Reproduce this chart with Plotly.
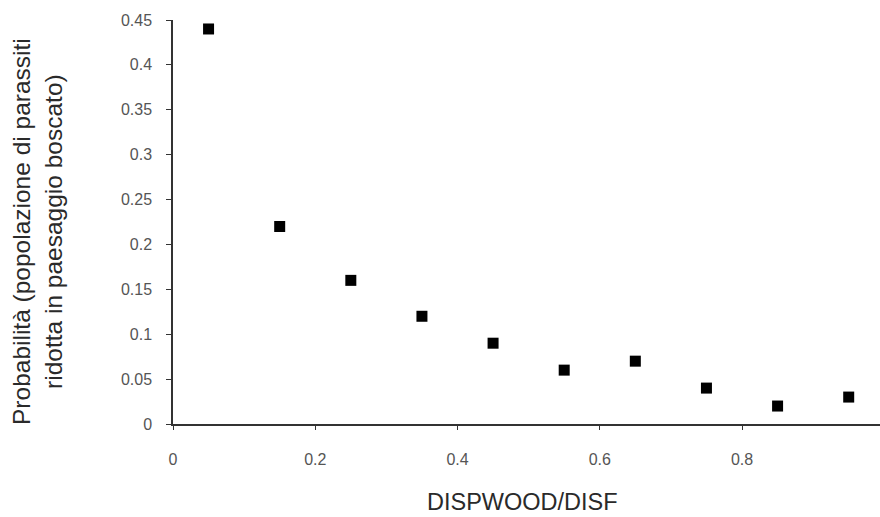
import plotly.graph_objects as go

x_vals = [0.05, 0.15, 0.25, 0.35, 0.45, 0.55, 0.65, 0.75, 0.85, 0.95]
y_vals = [0.44, 0.22, 0.16, 0.12, 0.09, 0.06, 0.07, 0.04, 0.02, 0.03]
x_ticks = [0, 0.2, 0.4, 0.6, 0.8, 1.0]
x_ticklabels = ["0", "0.2", "0.4", "0.6", "0.8", "1"]
y_ticks = [0, 0.05, 0.1, 0.15, 0.2, 0.25, 0.3, 0.35, 0.4, 0.45]
y_ticklabels = ["0", "0.05", "0.1", "0.15", "0.2", "0.25", "0.3", "0.35", "0.4", "0.45"]
x_title = "DISPWOOD/DISF"
y_title = "Probabilità (popolazione di parassiti<br>ridotta in paesaggio boscato)"

fig = go.Figure()
fig.add_trace(go.Scatter(
    x=x_vals, y=y_vals, mode="markers",
    marker=dict(symbol="square", size=11, color="#000000"),
    cliponaxis=False,
))

tickfont = dict(family="Liberation Sans, Arial, sans-serif", size=16, color="#555555")
xtitlefont = dict(family="Liberation Sans, Arial, sans-serif", size=23.5, color="#2a2a2a")
ytitlefont = dict(family="Liberation Sans, Arial, sans-serif", size=24.5, color="#2a2a2a")
fig.update_layout(
    width=880, height=517,
    margin=dict(l=173, r=0, t=20, b=93),
    paper_bgcolor="white", plot_bgcolor="white",
    showlegend=False,
    xaxis=dict(
        range=[0, 0.994], tickvals=x_ticks, ticktext=x_ticklabels,
        showgrid=False, zeroline=False, showline=True, linecolor="#333333", linewidth=1.5,
        ticks="outside", ticklen=4, tickcolor="#333333", tickfont=tickfont,
        ticklabelstandoff=16,
    ),
    yaxis=dict(
        range=[0, 0.45], tickvals=y_ticks, ticktext=y_ticklabels,
        showgrid=False, zeroline=False, showline=True, linecolor="#333333", linewidth=1.5,
        ticks="outside", ticklen=5, tickcolor="#333333", tickfont=tickfont,
        ticklabelstandoff=11,
    ),
    annotations=[
        dict(text=x_title, xref="paper", yref="paper", x=(522 - 173) / 707, y=(424 - 502) / 404,
             xanchor="center", yanchor="middle", showarrow=False, font=xtitlefont),
        dict(text=y_title, xref="paper", yref="paper", x=(37 - 173) / 707, y=(424 - 232) / 404,
             xanchor="center", yanchor="middle", showarrow=False, textangle=-90,
             font=ytitlefont),
    ],
)

fig.write_html("out.html")
